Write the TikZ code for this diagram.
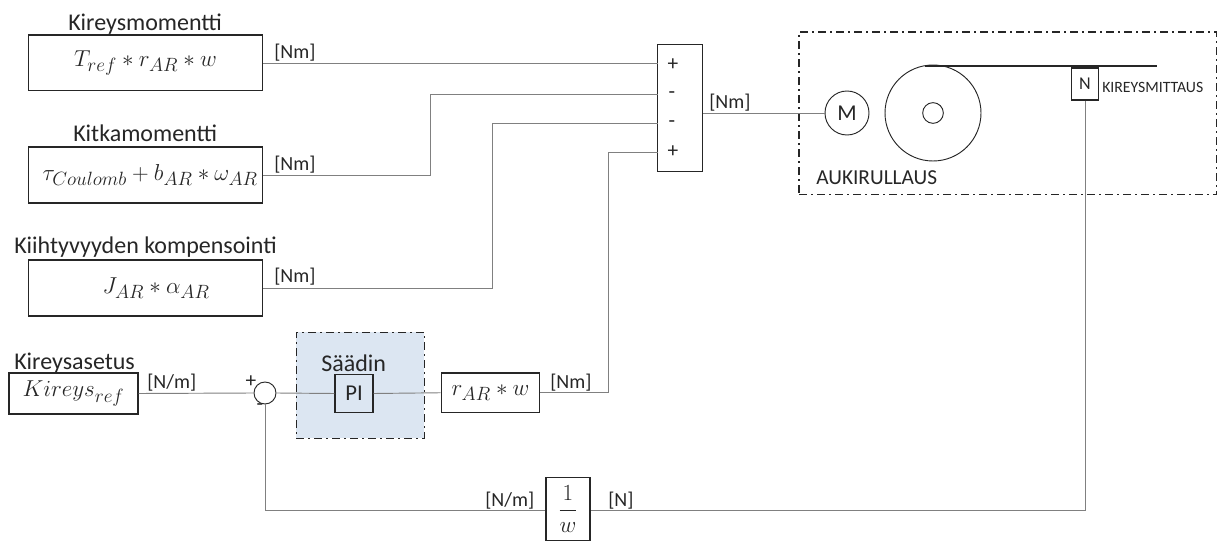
\documentclass[tikz,border=0pt]{standalone}
\usepackage{amsmath}
\usepackage{fontspec}
\setmainfont{Carlito}
\usepackage{tikz}
\usetikzlibrary{positioning}
\DeclareMathSizes{17}{17}{13.5}{10}
\definecolor{saadinfill}{HTML}{DCE6F2}
\definecolor{wirecol}{HTML}{808080}
\definecolor{inkcol}{HTML}{262626}

\begin{document}
\begin{tikzpicture}[
  x=0.75pt, y=-0.75pt,
  every node/.style={text=inkcol},
  blk/.style={draw=inkcol, line width=0.9pt, inner sep=0pt, font=\fontsize{17}{20}\selectfont},
  ring/.style={draw=inkcol, circle, line width=0.7pt, inner sep=0pt},
  wire/.style={draw=wirecol, line width=0.7pt},
  ttl/.style={inner sep=0pt, anchor=base west, font=\fontsize{18}{20}\selectfont},
  unit/.style={inner sep=0pt, anchor=base west, font=\fontsize{15}{17}\selectfont},
  sgn/.style={inner sep=0pt, font=\fontsize{16}{18}\selectfont},
  dashdot/.style={dash pattern=on 6pt off 3pt on 1.5pt off 3pt}
]
\useasboundingbox (0,0) rectangle (1217,541);

% saadin background
\node[draw=inkcol, dashdot, fill=saadinfill, line width=0.7pt, minimum width=96pt, minimum height=79.5pt, inner sep=0pt] (ctrl) at (360,385) {};

% left blocks
\node[blk, minimum width=176pt, minimum height=41.5pt] (torq) at (145.5,62.75) {$T_{ref} * r_{AR} * w$\hspace{48pt}};
\node[blk, minimum width=176pt, minimum height=42pt] (fric) at (145.5,175) {\hspace{7pt}$\tau_{Coulomb} + b_{AR} * \omega_{AR}$};
\node[blk, minimum width=176pt, minimum height=42pt] (acc) at (145.5,288) {\hspace{16pt}$J_{AR} * \alpha_{AR}$};
\node[blk, minimum width=96.75pt, minimum height=30.75pt] (ref) at (73.5,393.5) {$Kireys_{ref}$};

\node[ttl] (torqcap) at (68,30.5) {Kireysmomentti};
\node[ttl] (friccap) at (73,142) {Kitkamomentti};
\node[ttl] (acccap) at (14,254) {Kiihtyvyyden kompensointi};
\node[ttl] (refcap) at (14,369.5) {Kireysasetus};

% summing block
\node[blk, minimum width=34pt, minimum height=95pt] (sum) at (680,108) {};
\coordinate (p1) at (657.5,63);
\coordinate (p2) at (657.5,94);
\coordinate (p3) at (657.5,123);
\coordinate (p4) at (657.5,152);
\node[sgn] (s1) at (673,65) {+};
\node[sgn] (s2) at (672,95) {-};
\node[sgn] (s3) at (672,124) {-};
\node[sgn] (s4) at (673,152) {+};

% controller row
\node[ttl] (ctrlcap) at (321,372) {Säädin};
\node[ring, minimum size=16.5pt] (cmp) at (265,393) {};
\node[blk, fill=saadinfill, minimum width=28.5pt, minimum height=29pt] (pi) at (354,393.5) {PI};
\node[blk, minimum width=74pt, minimum height=29.5pt] (gain) at (490.5,392.75) {$r_{AR} * w$};
\node[sgn] (plus) at (251,382) {+};
\node[sgn] (minus) at (260,407) {-};

% feedback block
\node[blk, minimum width=33pt, minimum height=47pt] (inv) at (568,509) {$\dfrac{1}{w}$};

% unrolling section
\node[draw=inkcol, dashdot, line width=1pt, minimum width=313.5pt, minimum height=122pt, inner sep=0pt] (unroll) at (1008,113.5) {};
\node[ring, minimum size=33pt, font=\fontsize{17}{20}\selectfont] (motor) at (847,113) {M};
\node[ring, minimum size=72pt] (drum) at (933,113) {};
\node[ring, minimum size=15.5pt] (hub) at (933,113) {};
\coordinate (webstart) at (925,66);
\coordinate (webend) at (1157,66);
\node[blk, minimum width=20pt, minimum height=24pt, font=\fontsize{13.5}{15}\selectfont, anchor=north] (sensor) at (1085,67.5) {N};
\node[inner sep=0pt, anchor=west, font=\fontsize{11.8}{13}\selectfont] (sensorcap) at (1102,87) {KIREYSMITTAUS};
\node[inner sep=0pt, anchor=west, font=\fontsize{16}{18}\selectfont] (unrollcap) at (816,178) {AUKIRULLAUS};

% wires
\draw[wire] (torq.east |- p1) -- (p1);
\draw[wire] (fric.east) -- (430,175) -- (430,94) -- (p2);
\draw[wire] (acc.east) -- (492,288) -- (492,123) -- (p3);
\draw[wire] (gain.east) -- (608,392.75) -- (608,152) -- (p4);
\draw[wire] (ref.east) -- (cmp.west);
\draw[wire] (cmp.east) -- (pi.west);
\draw[wire] (pi.east) -- (gain.west);
\draw[wire] (sensor.south) -- (1085,510) -- (inv.east |- 0,510);
\draw[wire] (inv.west |- 0,510) -- (265,510) -- (cmp.south);
\draw[wire] (sum.east |- motor) -- (motor.west);
\draw[line width=1pt, inkcol] (webstart) -- (webend);

% units
\node[unit] (u1) at (274,59) {[Nm]};
\node[unit] (u2) at (274,171) {[Nm]};
\node[unit] (u3) at (274,283) {[Nm]};
\node[unit] (u4) at (147,389) {[N/m]};
\node[unit] (u5) at (550,389) {[Nm]};
\node[unit] (u6) at (709,109) {[Nm]};
\node[unit] (u7) at (485,506) {[N/m]};
\node[unit] (u8) at (608,506) {[N]};
\end{tikzpicture}
\end{document}
